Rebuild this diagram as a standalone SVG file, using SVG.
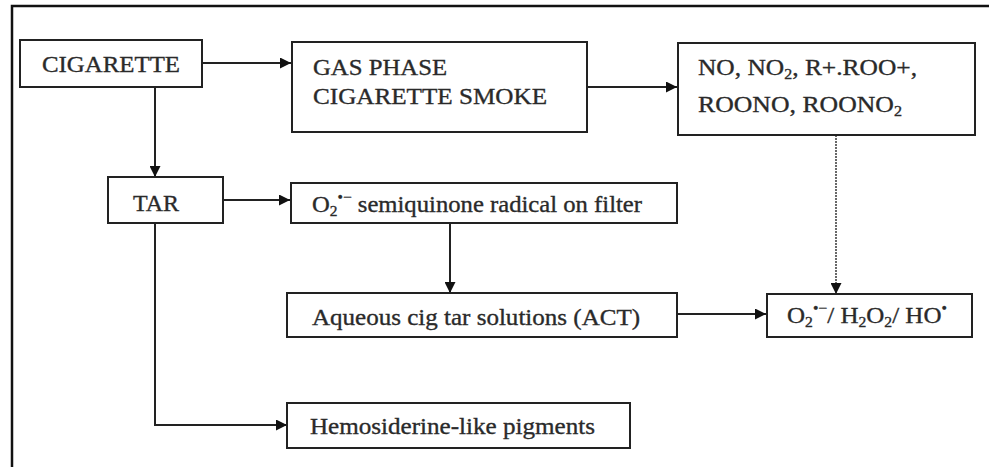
<svg xmlns="http://www.w3.org/2000/svg" width="989" height="467" viewBox="0 0 989 467">
<style>
.box{fill:#fff;stroke:#222;stroke-width:2}
.t{font-family:"Liberation Serif","Times New Roman",serif;font-size:24px;fill:#2a2a2a;stroke:#2a2a2a;stroke-width:0.35}
.s{font-size:15px}
.c{fill:none;stroke:#222;stroke-width:2}
.d{fill:none;stroke:#444;stroke-width:1.6;stroke-dasharray:2 1}
</style>
<defs>
<marker id="ah" viewBox="0 0 10 10" refX="10" refY="5" markerWidth="12" markerHeight="11" markerUnits="userSpaceOnUse" orient="auto">
<path d="M0,0 L10,5 L0,10 z" fill="#111"/>
</marker>
</defs>
<rect width="989" height="467" fill="#fff"/>
<path d="M12,467 V6 H989" fill="none" stroke="#111" stroke-width="2.5"/>

<g id="connectors">
<line class="c" x1="202" y1="63" x2="291" y2="63" marker-end="url(#ah)"/>
<line class="c" x1="587" y1="87" x2="677" y2="87" marker-end="url(#ah)"/>
<line class="c" x1="155" y1="87" x2="155" y2="177" marker-end="url(#ah)"/>
<line class="c" x1="223" y1="200" x2="290" y2="200" marker-end="url(#ah)"/>
<line class="c" x1="450" y1="223" x2="450" y2="293" marker-end="url(#ah)"/>
<line class="d" x1="836" y1="135" x2="836" y2="294" marker-end="url(#ah)"/>
<line class="c" x1="677" y1="314" x2="766" y2="314" marker-end="url(#ah)"/>
<polyline class="c" points="155,223 155,425 287,425" marker-end="url(#ah)"/>
</g>

<g id="cigarette">
<rect class="box" x="20" y="40" width="182" height="47"/>
<text class="t" x="42" y="72" textLength="138" lengthAdjust="spacingAndGlyphs">CIGARETTE</text>
</g>

<g id="gas-phase">
<rect class="box" x="292" y="42" width="295" height="90"/>
<text class="t" x="313" y="75" textLength="134" lengthAdjust="spacingAndGlyphs">GAS PHASE</text>
<text class="t" x="313" y="104" textLength="234" lengthAdjust="spacingAndGlyphs">CIGARETTE SMOKE</text>
</g>

<g id="nox">
<rect class="box" x="678" y="43" width="297" height="92"/>
<text class="t" x="698" y="75" textLength="219" lengthAdjust="spacingAndGlyphs">NO, NO<tspan class="s" dy="4">2</tspan><tspan dy="-4">, R+.ROO+,</tspan></text>
<text class="t" x="698" y="112" textLength="204" lengthAdjust="spacingAndGlyphs">ROONO, ROONO<tspan class="s" dy="4">2</tspan></text>
</g>

<g id="tar">
<rect class="box" x="108" y="177" width="115" height="46"/>
<text class="t" x="156" y="211" text-anchor="middle">TAR</text>
</g>

<g id="semiquinone">
<rect class="box" x="291" y="183" width="386" height="40"/>
<text class="t" x="312" y="212" textLength="330" lengthAdjust="spacingAndGlyphs">O<tspan class="s" dy="4">2</tspan><tspan class="s" dy="-14">•−</tspan><tspan dy="10"> semiquinone radical on filter</tspan></text>
</g>

<g id="aqueous">
<rect class="box" x="287" y="293" width="390" height="44"/>
<text class="t" x="312" y="325" textLength="328" lengthAdjust="spacingAndGlyphs">Aqueous cig tar solutions (ACT)</text>
</g>

<g id="ros">
<rect class="box" x="767" y="294" width="205" height="43"/>
<text class="t" x="787" y="323" textLength="160" lengthAdjust="spacingAndGlyphs">O<tspan class="s" dy="4">2</tspan><tspan class="s" dy="-14">•−</tspan><tspan dy="10">/ H</tspan><tspan class="s" dy="4">2</tspan><tspan dy="-4">O</tspan><tspan class="s" dy="4">2</tspan><tspan dy="-4">/ HO</tspan><tspan class="s" dy="-10">•</tspan></text>
</g>

<g id="hemosiderine">
<rect class="box" x="287" y="403" width="343" height="45"/>
<text class="t" x="310" y="434" textLength="285" lengthAdjust="spacingAndGlyphs">Hemosiderine-like pigments</text>
</g>
</svg>
